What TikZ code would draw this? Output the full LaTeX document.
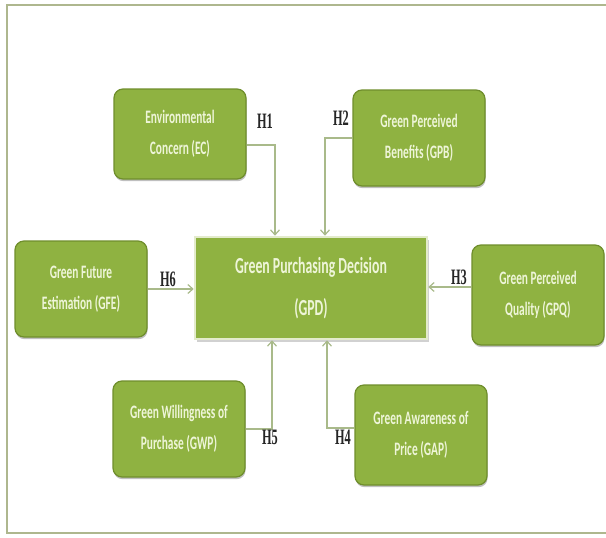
\documentclass[tikz,border=0pt]{standalone}
\usepackage{fontspec}
\usetikzlibrary{arrows.meta,shadows}
\newfontfamily\boxfont[FakeStretch=0.6]{Carlito}
\newfontfamily\hypfont[FakeStretch=0.56]{Liberation Serif}
\definecolor{boxgreen}{HTML}{8FB241}
\definecolor{boxedge}{HTML}{6F8E2C}
\definecolor{boxtext}{HTML}{EEF5D8}
\definecolor{linkc}{HTML}{A9BA8A}
\definecolor{framec}{HTML}{AEB78E}
\definecolor{coreedge}{HTML}{E3EBCC}
\tikzset{
  x=1pt, y=-1pt,
  factor/.style={draw=boxedge, line width=1.2pt, fill=boxgreen, rounded corners=9pt,
    minimum width=132pt, minimum height=96pt, align=center, text=boxtext,
    font=\boxfont\bfseries\fontsize{19}{31}\selectfont,
    drop shadow={shadow xshift=0.6pt, shadow yshift=-2.2pt, fill=black!55, opacity=0.45}},
  core/.style={draw=coreedge, line width=2.6pt, fill=boxgreen,
    minimum width=232pt, minimum height=102pt, align=center, text=boxtext,
    font=\boxfont\bfseries\fontsize{23}{42}\selectfont,
    drop shadow={shadow xshift=1.5pt, shadow yshift=-3pt, fill=black!40, opacity=0.45}},
  link/.style={draw=linkc, line width=1.2pt, -{Straight Barb[length=5pt,width=9pt]}},
  hyp/.style={font=\hypfont\bfseries\fontsize{22}{22}\selectfont, text=black!85, inner sep=0pt}
}
\begin{document}
\begin{tikzpicture}
\useasboundingbox (0,0) rectangle (606,538);
\fill[white] (0,0) rectangle (606,538);
% outer frame
\draw[framec, line width=1.3pt] (620,5) -- (7,5) -- (7,533) -- (620,533);

% constructs
\node[core] (gpd) at (311,288) {Green Purchasing Decision\\(GPD)};
\node[factor, minimum height=90pt] (ec) at (180,134) {Environmental\\Concern (EC)};
\node[factor] (gpb) at (419,138) {Green Perceived\\Benefits (GPB)};
\node[factor] (gfe) at (81,289) {Green Future\\Estimation (GFE)};
\node[factor, minimum height=100pt] (gpq) at (538,295) {Green Perceived\\Quality (GPQ)};
\node[factor] (gwp) at (179,429) {Green Willingness of\\Purchase (GWP)};
\node[factor, minimum height=100pt] (gap) at (421,435) {Green Awareness of\\Price (GAP)};

% hypothesised paths
\draw[link] ([yshift=-11pt]ec.east) -| ([xshift=-36pt]gpd.north);
\draw[link] (gpb.west) -| ([xshift=14pt]gpd.north);
\coordinate (h3) at ([yshift=8pt]gpq.west);
\draw[link] (h3) -- (h3 -| gpd.east);
\draw[link] (gfe.east) -- (gfe.east -| gpd.west);
\draw[link] (gwp.east) -| ([xshift=-39pt]gpd.south);
\coordinate (h4) at ([yshift=7pt]gap.west);
\draw[link] (h4) -| ([xshift=16pt]gpd.south);

% path labels
\node[hyp] (l1) at (265,121) {H1};
\node[hyp] (l2) at (341,118) {H2};
\node[hyp] (l3) at (459,277) {H3};
\node[hyp] (l6) at (168,279) {H6};
\node[hyp] (l5) at (270,437) {H5};
\node[hyp] (l4) at (343,437) {H4};
\end{tikzpicture}
\end{document}
